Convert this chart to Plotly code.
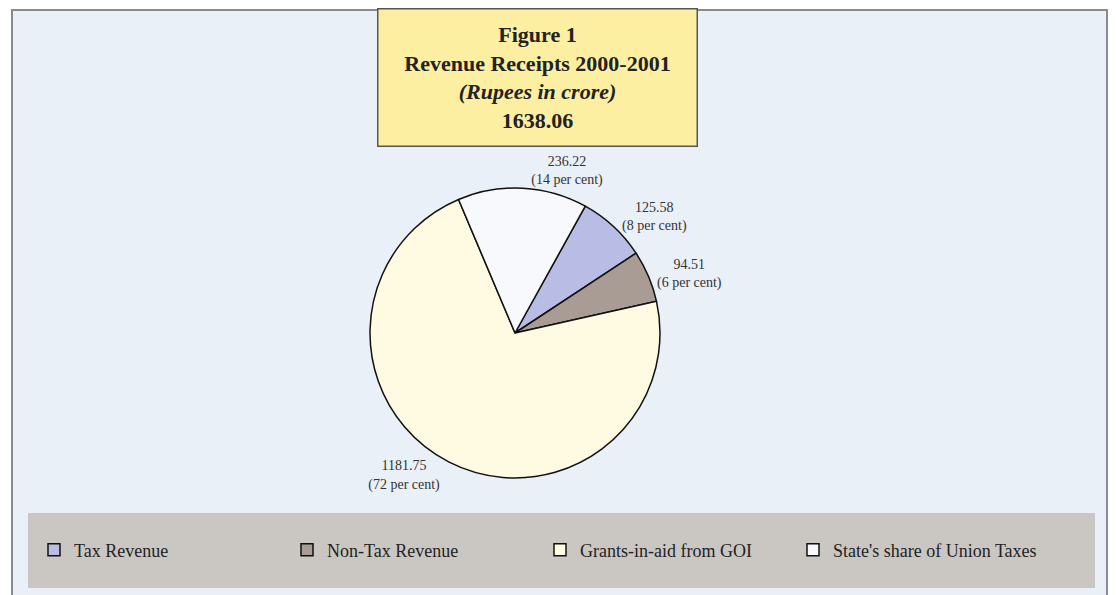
import plotly.graph_objects as go

# ---- data ----
categories = ["Tax Revenue", "Non-Tax Revenue", "Grants-in-aid from GOI", "State's share of Union Taxes"]
amounts = [125.58, 94.51, 1181.75, 236.22]
per_cent = [8, 6, 72, 14]
total = "1638.06"

colors = ["#b9bde6", "#a99c95", "#fffbe3", "#f7f9fd"]
serif = "Liberation Serif, Times New Roman, serif"

W, H = 1116, 595
def px(x): return x / W
def py(y): return 1 - y / H

fig = go.Figure()
fig.add_trace(go.Pie(
    labels=categories,
    values=amounts,
    customdata=per_cent,
    sort=False,
    direction="clockwise",
    rotation=29,
    marker=dict(colors=colors, line=dict(color="#111111", width=1.5)),
    textposition="outside",
    texttemplate="%{value:.2f}<br>(%{customdata} per cent)",
    textfont=dict(family=serif, size=14, color="#333333"),
    hoverinfo="label+value+percent",
    domain=dict(x=[px(230), px(800)], y=[py(478), py(188)]),
    showlegend=True,
))

shapes = [
    # page background frame
    dict(type="rect", xref="paper", yref="paper", x0=px(12), x1=px(1107), y0=-0.02, y1=py(10),
         fillcolor="#e9f0f8", line=dict(color="#8a8a8a", width=2), layer="below"),
    # legend band
    dict(type="rect", xref="paper", yref="paper", x0=px(28), x1=px(1095), y0=py(588), y1=py(513),
         fillcolor="#cac7c3", line=dict(width=0), layer="below"),
]

fig.update_layout(
    width=W, height=H,
    margin=dict(l=0, r=0, t=0, b=0),
    paper_bgcolor="white",
    plot_bgcolor="white",
    shapes=shapes,
    font=dict(family=serif, color="#222222"),
    legend=dict(
        orientation="h",
        x=px(34), xanchor="left",
        y=py(550), yanchor="middle",
        bgcolor="rgba(0,0,0,0)",
        font=dict(family=serif, size=18, color="#222222"),
        entrywidth=208, entrywidthmode="pixels",
        itemclick=False, itemdoubleclick=False,
    ),
    annotations=[
        dict(
            xref="paper", yref="paper", x=px(537.5), y=py(78), xanchor="center", yanchor="middle",
            text="<b>Figure 1</b><br><b>Revenue Receipts 2000-2001</b><br><b><i>(Rupees in crore)</i></b><br><b>" + total + "</b>",
            showarrow=False,
            font=dict(family=serif, size=22, color="#222222"),
            bgcolor="#fcefa2", bordercolor="#555555", borderwidth=1.5,
            width=308, height=126, borderpad=5,
        )
    ],
)

fig.write_html("out.html")
